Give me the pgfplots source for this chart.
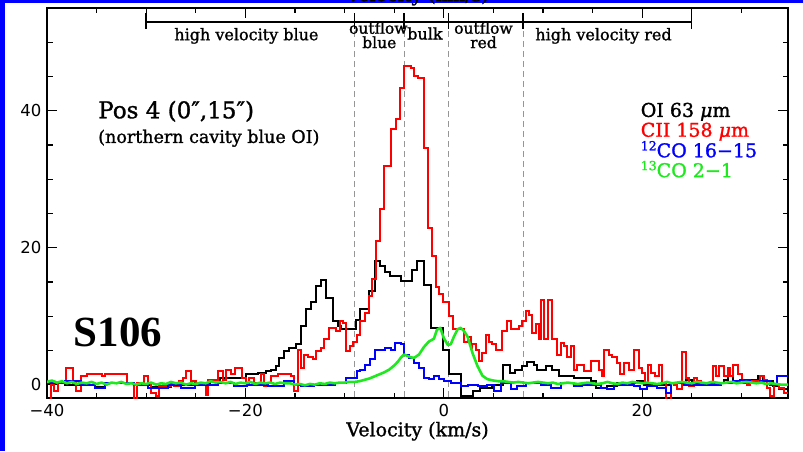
\documentclass[border=0pt]{standalone}
\usepackage{fontspec}
\setmainfont{DejaVu Serif}[FakeBold=1.3]
\newfontfamily\ticksans{DejaVu Sans}
\newfontfamily\bigserif{Liberation Serif}
\usepackage{pgfplots}
\pgfplotsset{compat=1.18}

\definecolor{cOI}{RGB}{0,0,0}
\definecolor{cCII}{RGB}{255,0,0}
\definecolor{cCOa}{RGB}{0,0,255}
\definecolor{cCOb}{RGB}{30,232,30}
\definecolor{dashgray}{RGB}{150,150,150}
\definecolor{slideblue}{RGB}{0,0,255}

\newcommand{\fs}[1]{\fontsize{#1}{#1}\selectfont}

\begin{document}
\begin{tikzpicture}[x=1pt,y=1pt]
\useasboundingbox (0,0) rectangle (803,451);
% slide background edges
\fill[slideblue] (0,0) rectangle (4.5,451);
\fill[slideblue] (0,447.5) rectangle (803,451);
\begin{scope}
  \clip (0,445) rectangle (803,451);
  \node[anchor=base, inner sep=0pt, font=\fs{19}] at (417.5,449.8) {Velocity (km/s)};
\end{scope}

\begin{axis}[
  at={(47pt,53pt)}, anchor=south west,
  scale only axis, width=741pt, height=390pt,
  xmin=-40, xmax=34.7, ymin=-1.95, ymax=55,
  axis line style={line width=1.3pt},
  every tick/.style={line width=1.3pt, black},
  major tick length=10pt, minor tick length=5.5pt,
  tick align=inside,
  xtick={-40,-20,0,20}, xticklabels={−40,−20,0,20},
  minor xtick={-35,-30,-25,-15,-10,-5,5,10,15,25,30},
  ytick={0,20,40}, yticklabels={0,20,40},
  minor ytick={5,10,15,25,30,35,45,50},
  tick label style={font=\ticksans\fs{16.5}},
  xticklabel style={yshift=-3pt},
  yticklabel style={xshift=-2pt},
  xlabel={Velocity (km/s)},
  xlabel style={font=\fs{19}, yshift=2pt},
  clip=true,
]

% velocity ranges
\draw[line width=1.8pt] (axis cs:-30,53) -- (axis cs:25,53);
\draw[line width=1.4pt] (axis cs:-30,54.2) -- (axis cs:-30,52.0);
\draw[line width=1.4pt] (axis cs:-9,54.2) -- (axis cs:-9,52.0);
\draw[line width=1.4pt] (axis cs:-4,54.2) -- (axis cs:-4,52.0);
\draw[line width=1.4pt] (axis cs:0.5,54.2) -- (axis cs:0.5,52.0);
\draw[line width=1.4pt] (axis cs:8,54.2) -- (axis cs:8,52.0);
\draw[line width=1.4pt] (axis cs:25,54.2) -- (axis cs:25,52.0);
\draw[dashgray, line width=0.8pt, dash pattern=on 6pt off 4pt] (axis cs:-9,51.6) -- (axis cs:-9,-1.95);
\draw[dashgray, line width=0.8pt, dash pattern=on 6pt off 4pt] (axis cs:-4,51.6) -- (axis cs:-4,-1.95);
\draw[dashgray, line width=0.8pt, dash pattern=on 6pt off 4pt] (axis cs:0.5,51.6) -- (axis cs:0.5,-1.95);
\draw[dashgray, line width=0.8pt, dash pattern=on 6pt off 4pt] (axis cs:8,51.6) -- (axis cs:8,-1.95);

\node[anchor=base, inner sep=0pt, font=\fs{16}] at (axis cs:-19.9,50.3) {high velocity blue};
\node[anchor=base, inner sep=0pt, font=\fs{15.5}] at (axis cs:-6.6,51.25) {outflow};
\node[anchor=base, inner sep=0pt, font=\fs{15.5}] at (axis cs:-6.5,49.15) {blue};
\node[anchor=base, inner sep=0pt, font=\fs{16}] at (axis cs:-1.9,50.4) {bulk};
\node[anchor=base, inner sep=0pt, font=\fs{15.5}] at (axis cs:4.0,51.25) {outflow};
\node[anchor=base, inner sep=0pt, font=\fs{15.5}] at (axis cs:4.0,49.15) {red};
\node[anchor=base, inner sep=0pt, font=\fs{16}] at (axis cs:16.1,50.3) {high velocity red};

% position and source
\node[anchor=base west, inner sep=0pt, font=\fs{23}] at (axis cs:-34.85,38.9) {Pos 4 (0″,15″)};
\node[anchor=base west, inner sep=0pt, font=\fs{17.5}] at (axis cs:-34.85,35.3) {(northern cavity blue OI)};
\node[anchor=base west, inner sep=0pt, font=\bigserif\bfseries\fs{43}] at (axis cs:-37.3,5.6) {S106};

% line labels
\node[anchor=base west, inner sep=0pt, font=\fs{19}, text=cOI] at (axis cs:19.84,39.1) {OI 63 {\itshape μ}m};
\node[anchor=base west, inner sep=0pt, font=\fs{19}, text=cCII] at (axis cs:19.84,36.2) {CII 158 {\itshape μ}m};
\node[anchor=base west, inner sep=0pt, font=\fs{19}, text=cCOa] at (axis cs:19.84,33.2) {\raisebox{7pt}{\fs{12.5}12}CO 16−15};
\node[anchor=base west, inner sep=0pt, font=\fs{19}, text=cCOb] at (axis cs:19.84,30.3) {\raisebox{7pt}{\fs{12.5}13}CO 2−1};

% OI 63 micron
\addplot[const plot, color=cOI, line width=2pt] coordinates {
(-40,0.2)(-38.2,0.0)(-35.2,-0.4)(-34.2,0.2)(-31.2,-0.1)(-29.5,-0.4)(-27.5,0.0)(-25.1,0.2)
(-23.6,0.5)(-22.6,1.0)(-21.2,0.9)(-19.9,1.5)(-18.7,1.7)(-17.9,2.0)(-17.4,2.2)(-16.9,2.7)
(-16.6,3.9)(-16.1,4.9)(-15.6,5.4)(-14.9,5.9)(-14.4,8.5)(-13.9,11.0)(-13.4,12.0)(-12.9,14.4)
(-12.4,15.3)(-11.9,12.7)(-11.2,9.3)(-10.7,8.5)(-10.4,8.1)(-8.9,9.5)(-8.4,11.0)(-7.5,13.7)
(-6.9,18.1)(-6.4,17.3)(-5.9,16.5)(-5.4,15.9)(-4.3,15.1)(-3.2,16.8)(-2.7,18.1)(-2.0,14.6)
(-1.3,8.3)(-0.1,5.1)(0.5,1.5)(1.7,-1.7)(2.9,-1.0)(3.7,-0.5)(4.9,0.0)(6.0,2.9)(6.7,1.7)
(7.2,2.2)(7.9,2.7)(8.4,3.3)(9.1,2.9)(9.4,2.2)(10.3,2.7)(10.9,2.2)(11.6,1.2)(13.1,1.0)
(14.8,0.5)(15.3,-0.5)(16.5,-0.2)(17.5,0.2)(19.5,0.5)(20.2,0.0)(22.9,0.2)(24.4,0.7)(25.0,0.2)
(28.2,0.7)(28.6,1.2)(29.2,0.2)(30.9,0.7)(31.7,1.2)(32.2,0.5)(33.2,-0.2)(33.8,-0.7)(34.7,-0.7)
};

% CII 158 micron
\addplot[const plot, color=cCII, line width=2pt] coordinates {
(-40.0,-2.5)(-39.6,0.0)(-39.3,-1.0)(-38.9,0.2)(-38.1,2.5)(-37.4,0.2)(-37.1,-1.0)(-36.6,1.2)
(-36.0,1.5)(-35.5,1.6)(-34.5,1.2)(-34.2,1.5)(-33.5,1.6)(-32.9,1.5)(-31.9,0.2)(-31.2,-2.5)
(-30.9,0.2)(-30.2,1.2)(-29.8,0.2)(-29.5,-1.2)(-29.0,-1.7)(-28.7,-0.2)(-27.5,0.2)(-27.2,-0.2)
(-26.7,0.5)(-26.3,1.0)(-26.0,2.0)(-25.5,0.5)(-25.0,0.2)(-24.5,0.0)(-24.0,-1.5)(-23.8,0.7)
(-22.8,2.0)(-22.3,0.7)(-22.0,2.2)(-21.5,1.5)(-21.0,2.4)(-20.3,1.0)(-19.9,0.2)(-19.6,1.0)
(-19.1,0.2)(-18.6,0.0)(-18.4,1.5)(-18.1,-0.2)(-17.8,0.2)(-17.4,1.2)(-16.7,1.5)(-15.4,1.3)
(-15.1,-1.0)(-14.7,5.1)(-14.4,2.4)(-14.1,4.4)(-13.7,4.1)(-13.2,3.7)(-12.9,4.9)(-12.4,5.4)
(-12.05,6.6)(-11.55,8.3)(-10.9,7.8)(-10.5,9.3)(-10.2,9.0)(-9.87,4.9)(-9.5,5.6)(-9.2,6.3)
(-8.7,7.3)(-8.4,9.3)(-7.9,10.5)(-7.5,12.9)(-7.2,15.4)(-6.85,21.0)(-6.45,25.7)(-6.0,32.0)
(-5.3,37.3)(-4.8,38.8)(-4.4,43.3)(-4.06,46.6)(-3.3,46.2)(-3.0,45.1)(-2.6,44.8)(-2.0,34.5)
(-1.57,22.9)(-1.2,18.8)(-0.8,14.2)(-0.47,13.2)(-0.13,12.0)(0.53,10.0)(0.88,8.1)(2.05,6.3)
(2.4,6.9)(2.7,5.4)(2.89,5.9)(3.22,5.1)(3.56,3.4)(3.89,4.6)(4.23,7.3)(4.56,6.3)(4.9,5.9)
(5.24,5.1)(5.91,7.8)(6.41,9.3)(6.75,8.1)(7.59,8.5)(7.92,9.3)(8.26,10.7)(8.59,10.2)(8.93,7.6)
(9.26,8.8)(9.6,6.6)(9.77,12.3)(10.1,6.6)(10.5,12.3)(10.95,6.6)(11.45,4.4)(11.78,6.1)
(12.1,5.6)(12.45,4.1)(12.79,5.6)(13.1,2.2)(13.46,2.9)(14.1,2.0)(14.8,3.4)(15.6,2.2)
(15.9,1.2)(16.2,5.1)(16.7,4.4)(17.0,4.1)(17.5,3.2)(17.8,1.5)(18.2,3.2)(18.7,2.2)(19.2,5.0)
(19.7,2.5)(20.0,1.7)(20.3,0.2)(20.6,2.9)(20.9,1.7)(21.3,1.2)(21.7,2.9)(22.0,0.2)(22.4,-2.5)
(22.9,0.2)(23.2,0.0)(23.5,-0.7)(24.0,4.7)(24.4,1.0)(24.7,-0.2)(25.2,1.0)(25.5,0.5)(25.9,0.0)
(26.5,0.3)(27.1,2.7)(27.4,1.2)(27.7,2.7)(28.2,1.2)(28.6,2.4)(28.9,1.2)(29.2,2.9)(29.7,1.5)
(30.1,0.7)(30.6,0.0)(30.9,0.5)(31.9,1.2)(32.3,0.7)(32.6,-0.5)(32.9,-1.7)(33.3,0.0)
(33.8,-0.5)(34.3,-1.2)(34.7,-1.2)
};

% 12CO 16-15
\addplot[const plot, color=cCOa, line width=2pt] coordinates {
(-40.0,0.2)(-38.2,0.5)(-36.6,0.0)(-35.2,-0.5)(-34.2,0.2)(-31.2,-0.1)(-29.8,-0.5)(-27.8,0.0)
(-26.5,-0.5)(-25.1,0.0)(-22.8,0.2)(-21.1,-0.2)(-19.8,0.0)(-17.7,-0.2)(-16.1,0.5)(-15.1,0.0)
(-14.4,-0.2)(-13.1,0.0)(-11.0,0.3)(-9.87,1.0)(-8.7,2.0)(-8.4,2.2)(-7.9,2.9)(-7.4,3.7)
(-6.9,5.1)(-5.88,5.4)(-5.37,5.1)(-4.87,6.1)(-4.36,5.9)(-4.03,4.4)(-3.52,3.9)(-3.02,3.2)
(-2.51,2.4)(-2.0,1.0)(-1.5,0.8)(-1.0,1.2)(-0.47,0.8)(0.03,0.5)(0.7,0.2)(1.7,-0.2)(2.4,0.0)
(3.4,-0.2)(4.4,0.0)(5.07,-1.0)(5.74,0.2)(6.75,-0.7)(7.4,-0.2)(8.3,0.2)(9.8,0.0)(10.8,-0.5)
(11.8,0.2)(13.1,-0.2)(13.95,0.0)(15.8,-0.5)(16.5,-0.7)(17.2,0.0)(19.2,-0.2)(19.8,-0.7)
(20.5,-0.2)(21.5,-0.5)(22.4,-1.2)(22.9,0.2)(24.2,0.0)(27.9,0.2)(29.2,0.5)(29.9,0.7)
(30.9,0.2)(31.9,0.5)(32.9,0.0)(33.6,1.2)(34.7,1.2)
};

% 13CO 2-1
\addplot[color=cCOb, line width=2.6pt, line join=round] coordinates {
(-40,0.4)(-39.5,0.6)(-39,0.3)(-38.5,0.5)(-38,0.2)(-37.5,0.4)(-37,0.1)(-36.5,0.3)(-36,0.2)
(-35.5,0.4)(-35,0.1)(-34.5,0.3)(-34,0.0)(-33.5,0.3)(-33,0.2)(-32.5,0.4)(-32,0.1)(-31.5,0.2)
(-31,0.0)(-30.5,0.2)(-30,0.1)(-29.5,0.3)(-29,0.0)(-28.5,0.2)(-28,0.1)(-27.5,0.4)(-27,0.2)
(-26.5,0.3)(-26,0.0)(-25.5,0.2)(-25,0.1)(-24.5,0.3)(-24,0.2)(-23.5,0.5)(-23,0.3)(-22.5,0.4)
(-22,0.2)(-21.5,0.4)(-21,0.1)(-20.5,0.3)(-20,0.2)(-19.5,0.4)(-19,0.1)(-18.5,0.3)(-18,0.2)
(-17.5,0.3)(-17,0.1)(-16.5,0.3)(-16,0.2)(-15.5,0.2)(-15,0.0)(-14.5,0.1)(-14,-0.1)(-13.5,0.1)
(-13,0.0)(-12.5,0.2)(-12,0.1)(-11.5,0.3)(-11,0.2)(-10.5,0.3)(-10,0.3)(-9.5,0.4)(-9,0.4)
(-8.5,0.5)(-8,0.7)(-7.5,0.9)(-7,1.2)(-6.5,1.5)(-6,1.8)(-5.5,2.2)(-5,2.8)(-4.6,3.4)(-4.3,4.0)
(-4.0,4.4)(-3.7,4.2)(-3.3,4.0)(-3.0,3.9)(-2.5,4.4)(-2.0,5.5)(-1.5,6.3)(-1.0,6.7)(-0.7,8.0)
(-0.35,8.3)(0.0,6.8)(0.4,5.8)(0.7,5.9)(1.05,7.1)(1.4,8.1)(1.7,8.3)(2.05,7.8)(2.4,7.0)
(2.9,4.6)(3.4,2.7)(3.9,1.3)(4.4,0.8)(5,0.6)(5.5,0.5)(6,0.5)(6.5,0.4)(7,0.3)(7.5,0.4)(8,0.3)
(8.5,0.2)(9,0.3)(9.5,0.4)(10,0.3)(10.5,0.2)(11,0.3)(11.5,0.1)(12,0.2)(12.5,0.3)(13,0.2)
(13.5,0.1)(14,0.2)(14.5,0.3)(15,0.2)(15.5,0.1)(16,0.2)(16.5,0.4)(17,0.2)(17.5,0.1)(18,0.3)
(18.5,0.2)(19,0.4)(19.5,0.3)(20,0.2)(20.5,0.3)(21,0.2)(21.5,0.1)(22,0.2)(22.5,0.4)(23,0.2)
(23.5,0.3)(24,0.4)(24.5,0.3)(25,0.2)(25.5,0.4)(26,0.3)(26.5,0.2)(27,0.4)(27.5,0.3)(28,0.2)
(28.5,0.3)(29,0.4)(29.5,0.2)(30,0.3)(30.5,0.4)(31,0.3)(31.5,0.2)(32,0.3)(32.5,0.1)(33,0.2)
(33.5,0.1)(34,0.0)(34.7,0.0)
};
\end{axis}
\end{tikzpicture}
\end{document}
